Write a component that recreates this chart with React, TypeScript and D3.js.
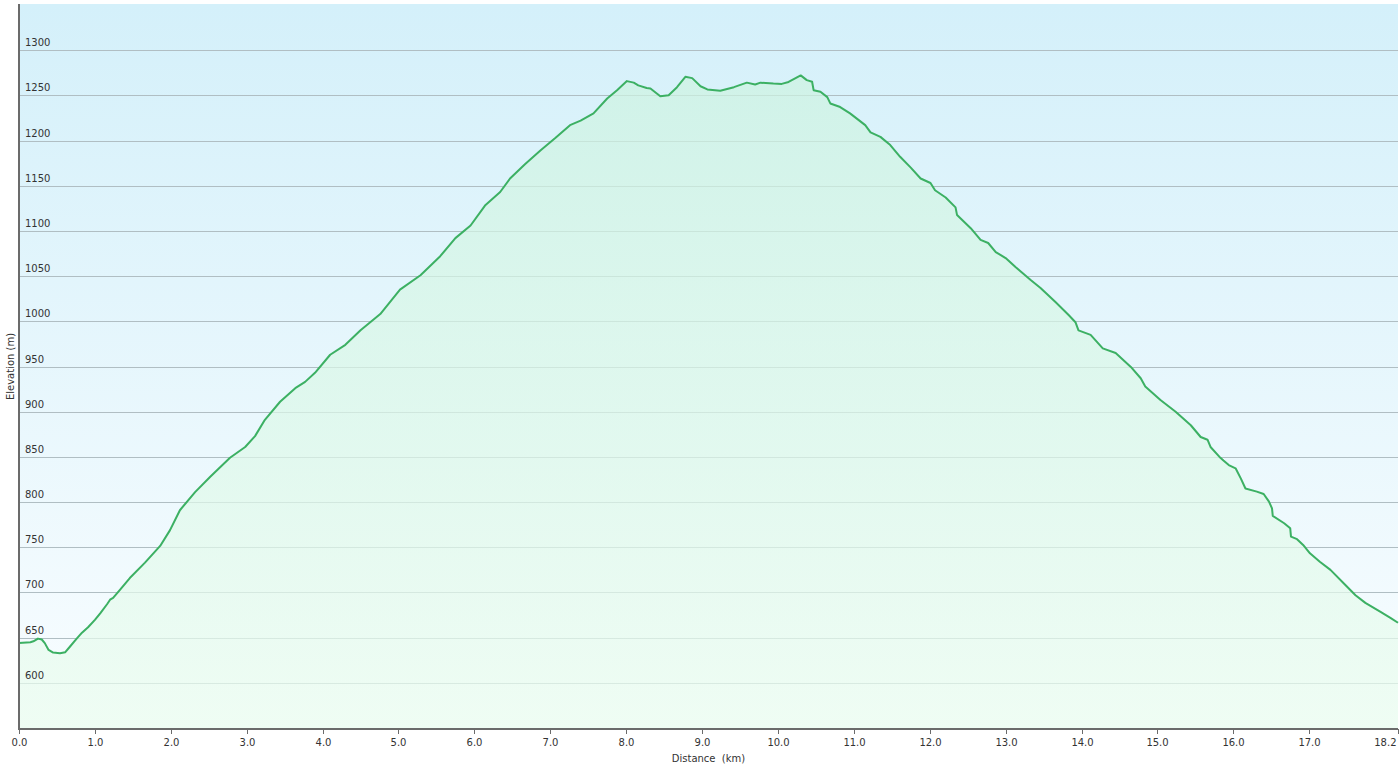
import React from "react";
import * as d3 from "d3";

// distance (km) / elevation (m)
const distanceKm = [
  0, 0.15, 0.19, 0.25, 0.3, 0.34, 0.39, 0.45, 0.54, 0.61, 0.67, 0.76, 0.83, 0.91, 1.0, 1.07, 1.16, 1.2,
  1.24, 1.33, 1.46, 1.66, 1.86, 1.99, 2.12, 2.32, 2.52, 2.78, 2.98, 3.11, 3.24, 3.44, 3.64, 3.77, 3.9,
  4.1, 4.3, 4.5, 4.76, 5.02, 5.29, 5.55, 5.75, 5.95, 6.14, 6.34, 6.47, 6.67, 6.87, 7.07, 7.26, 7.4,
  7.57, 7.75, 7.88, 8.01, 8.1, 8.16, 8.27, 8.32, 8.45, 8.56, 8.67, 8.78, 8.87, 8.98, 9.07, 9.24, 9.33,
  9.42, 9.59, 9.7, 9.77, 9.94, 10.05, 10.14, 10.3, 10.38, 10.45, 10.47, 10.56, 10.65, 10.69, 10.82,
  10.95, 11.15, 11.22, 11.35, 11.48, 11.61, 11.75, 11.88, 12.01, 12.07, 12.21, 12.34, 12.36, 12.54,
  12.67, 12.77, 12.87, 13.0, 13.13, 13.33, 13.46, 13.66, 13.83, 13.92, 13.96, 14.12, 14.28, 14.45,
  14.65, 14.78, 14.84, 15.04, 15.24, 15.44, 15.57, 15.66, 15.7, 15.83, 15.87, 15.94, 16.03, 16.1,
  16.16, 16.31, 16.4, 16.47, 16.51, 16.52, 16.67, 16.75, 16.76, 16.84, 16.92, 17.01, 17.14, 17.28,
  17.48, 17.61, 17.74, 17.94, 18.07, 18.17,
];
const elevationM = [
  644, 645, 646, 649, 648, 644, 636.5, 633.5, 632.8, 634, 640, 649, 655.6, 661.6, 669.7, 677, 687, 692,
  694, 703, 716, 733, 751.5, 769, 791, 811, 828, 849, 861, 873, 891, 911, 926, 933, 943,
  963, 974, 990, 1008, 1035, 1051, 1072, 1092, 1106, 1128, 1143, 1158, 1174, 1189, 1203, 1217, 1222,
  1230, 1246.5, 1255.7, 1265.7, 1264, 1261, 1258, 1257.6, 1249, 1250, 1259, 1270.5, 1269, 1260, 1256.5, 1255, 1257,
  1259, 1264, 1262, 1264, 1263, 1262.6, 1264.8, 1272, 1266.8, 1265, 1255.7, 1254, 1248, 1241, 1237,
  1230, 1217, 1209, 1204, 1195, 1182, 1170, 1158, 1153, 1145, 1137, 1126, 1117.5, 1103,
  1090, 1086.6, 1076.6, 1070, 1060, 1045.6, 1036.8, 1021, 1007, 999, 990, 985, 970, 965,
  949.5, 937, 928, 913, 900, 885, 872, 869, 861, 849, 846, 841, 837.4, 826,
  815, 811.6, 809, 800.5, 793, 784.7, 776.6, 771, 761.8, 759, 752.6, 743.4, 734, 725,
  708, 697, 688.5, 678.5, 672, 666.5,
];
const yTicks = [600, 650, 700, 750, 800, 850, 900, 950, 1000, 1050, 1100, 1150, 1200, 1250, 1300];
const xTicks = [0, 1, 2, 3, 4, 5, 6, 7, 8, 9, 10, 11, 12, 13, 14, 15, 16, 17, 18.17];

const W = 1400;
const H = 767;
const plot = { left: 19, right: 1398, top: 4, bottom: 729 };
const font = "Verdana, 'DejaVu Sans', sans-serif";

export default function App() {
  const data = distanceKm.map((d, i) => ({ d, e: elevationM[i] }));

  const x = d3.scaleLinear().domain([0, 18.17]).range([plot.left, plot.right]);
  const y = d3.scaleLinear().domain([549, 1351]).range([plot.bottom, plot.top]);

  const line = d3
    .line<{ d: number; e: number }>()
    .x((p) => x(p.d))
    .y((p) => y(p.e));
  const area = d3
    .area<{ d: number; e: number }>()
    .x((p) => x(p.d))
    .y0(plot.bottom)
    .y1((p) => y(p.e));

  const lastTick = xTicks[xTicks.length - 1];

  return (
    <div style={{ position: "absolute", left: 0, top: 0 }}>
      <svg width={W} height={H} style={{ display: "block" }}>
        <defs>
          <linearGradient id="bg" x1="0" y1="0" x2="0" y2="1">
            <stop offset="0%" stopColor="#d4f0fa" />
            <stop offset="100%" stopColor="#f9fdff" />
          </linearGradient>
          <linearGradient id="fillG" x1="0" y1="0" x2="0" y2="1">
            <stop offset="0%" stopColor="#cdf3e1" />
            <stop offset="100%" stopColor="#ebfdef" />
          </linearGradient>
        </defs>
        <rect width={W} height={H} fill="#ffffff" />
        <rect
          x={plot.left}
          y={plot.top}
          width={plot.right - plot.left}
          height={plot.bottom - plot.top}
          fill="url(#bg)"
        />
        {yTicks.map((t) => (
          <line
            key={"g" + t}
            x1={plot.left}
            x2={plot.right}
            y1={Math.round(y(t)) + 0.5}
            y2={Math.round(y(t)) + 0.5}
            stroke="#b0bec3"
            strokeWidth={1}
          />
        ))}
        <path d={area(data) ?? ""} fill="url(#fillG)" fillOpacity={0.7} />
        <path
          d={line(data) ?? ""}
          fill="none"
          stroke="#3cb063"
          strokeWidth={2}
          strokeLinejoin="round"
        />
        {yTicks.map((t) => (
          <text
            key={"t" + t}
            x={plot.left + 6}
            y={y(t) - 4}
            fontSize={10}
            fontFamily={font}
            fill="#333"
          >
            {t}
          </text>
        ))}
        {/* axes */}
        <line x1={plot.left} x2={plot.left} y1={plot.top} y2={plot.bottom + 1} stroke="#6b6b6b" strokeWidth={2} />
        <line x1={plot.left} x2={plot.right} y1={plot.bottom} y2={plot.bottom} stroke="#6b6b6b" strokeWidth={2} />
        {xTicks.map((t) => (
          <g key={"x" + t} transform={`translate(${Math.round(x(t)) + 0.5},0)`}>
            <line y1={plot.bottom} y2={plot.bottom + 5} stroke="#6b6b6b" strokeWidth={1} />
            <text
              x={t === lastTick ? -2 : 0}
              y={plot.bottom + 17}
              textAnchor={t === lastTick ? "end" : "middle"}
              fontSize={10}
              fontFamily={font}
              fill="#333"
            >
              {t.toFixed(1)}
            </text>
          </g>
        ))}
        <text
          x={(plot.left + plot.right) / 2}
          y={762}
          textAnchor="middle"
          fontSize={10}
          fontFamily={font}
          fill="#333"
          style={{ whiteSpace: "pre" }}
        >
          {"Distance  (km)"}
        </text>
        <text
          transform={`translate(14,${(plot.top + plot.bottom) / 2}) rotate(-90)`}
          textAnchor="middle"
          fontSize={10}
          fontFamily={font}
          fill="#333"
        >
          Elevation (m)
        </text>
      </svg>
    </div>
  );
}
